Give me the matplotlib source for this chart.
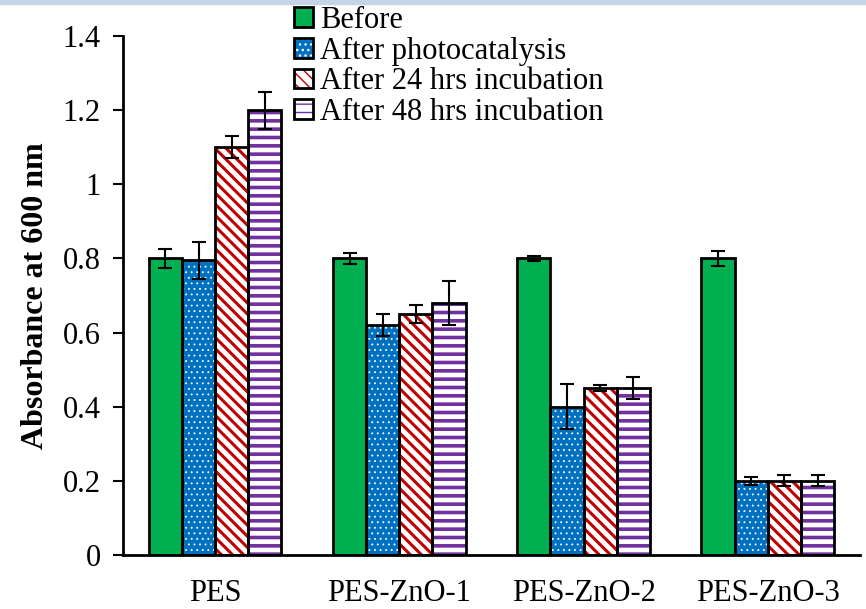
import numpy as np
import matplotlib as mpl
import matplotlib.pyplot as plt
from matplotlib.patches import Patch, Rectangle

plt.rcParams['font.family'] = ['Liberation Serif', 'DejaVu Serif']

groups = ['PES', 'PES-ZnO-1', 'PES-ZnO-2', 'PES-ZnO-3']
series = ['Before', 'After photocatalysis', 'After 24 hrs incubation', 'After 48 hrs incubation']
before = [0.80, 0.80, 0.80, 0.80]
before_err = [0.025, 0.015, 0.008, 0.02]
photo = [0.795, 0.62, 0.40, 0.20]
photo_err = [0.05, 0.03, 0.06, 0.01]
inc24 = [1.10, 0.65, 0.45, 0.20]
inc24_err = [0.03, 0.025, 0.008, 0.015]
inc48 = [1.20, 0.68, 0.45, 0.20]
inc48_err = [0.05, 0.06, 0.03, 0.015]

values = [before, photo, inc24, inc48]
errors = [before_err, photo_err, inc24_err, inc48_err]
faces = ['#00B050', '#0070C0', 'white', 'white']
hatch_cols = ['#00B050', 'white', '#C00000', '#7030A0']
hatches = [None, '...', '\\\\\\', '--']
hatch_lw = [1.0, 0.6, 2.2, 2.6]

fig = plt.figure(figsize=(8.66, 6.09), dpi=100)
ax = fig.add_axes([0.142, 0.0887, 0.851, 0.852])

# light blue band along the top
fig.patches.append(Rectangle((0, 0.993), 1, 0.007, transform=fig.transFigure,
                             color='#C5D5E8', zorder=0))

x = np.arange(len(groups))
w = 0.18
handles = []
for i in range(4):
    pos = x + (i - 1.5) * w
    with mpl.rc_context({'hatch.linewidth': hatch_lw[i]}):
        ax.bar(pos, values[i], w, color=faces[i], edgecolor=hatch_cols[i],
               hatch=hatches[i], linewidth=0, zorder=2)
        hp = Patch(facecolor=faces[i], edgecolor=hatch_cols[i], hatch=hatches[i], linewidth=0)
    ax.bar(pos, values[i], w, fill=False, edgecolor='black', linewidth=2, zorder=3)
    ax.errorbar(pos, values[i], yerr=errors[i], fmt='none', ecolor='black',
                elinewidth=1.5, capsize=5, capthick=1.5, zorder=4)
    op = Patch(fill=False, edgecolor='black', linewidth=2)
    handles.append((hp, op))

ax.set_ylim(0, 1.4)
ax.set_xlim(-0.5, 3.5)
ax.set_yticks(np.arange(0, 1.41, 0.2))
ax.set_yticklabels(['0', '0.2', '0.4', '0.6', '0.8', '1', '1.2', '1.4'])
ax.set_xticks(x)
ax.set_xticklabels(groups)
ax.tick_params(axis='y', labelsize=22, length=7, width=1.5, direction='out', pad=9)
ax.tick_params(axis='x', labelsize=22, length=0, pad=17)
ax.set_ylabel('Absorbance at 600 nm', fontsize=23, fontweight='bold', labelpad=9)

for s in ['top', 'right']:
    ax.spines[s].set_visible(False)
for s in ['left', 'bottom']:
    ax.spines[s].set_linewidth(2)

fig.legend(handles, series, loc='upper left', bbox_to_anchor=(0.339, 0.99),
           frameon=False, fontsize=22, handlelength=0.62, handleheight=0.62,
           handletextpad=0.25, labelspacing=0.05, borderaxespad=0,
           borderpad=0)

fig.savefig('out.png', dpi=100)
